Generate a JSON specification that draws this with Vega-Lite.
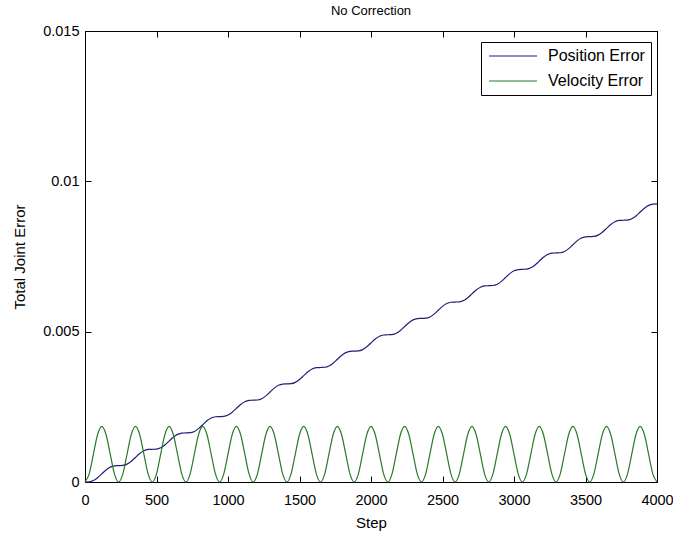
{
  "$schema": "https://vega.github.io/schema/vega-lite/v6.json",
  "width": 572,
  "height": 451,
  "autosize": {"type": "none"},
  "padding": {"left": 85, "top": 31, "right": 16, "bottom": 53},
  "background": "white",
  "title": {"text": "No Correction", "fontSize": 13, "fontWeight": "normal", "font": "Liberation Sans", "color": "black", "offset": 5},
  "config": {
    "view": {"stroke": "black", "strokeWidth": 1},
    "font": "Liberation Sans",
    "axis": {
      "grid": false,
      "domainColor": "black",
      "tickColor": "black",
      "labelColor": "black",
      "titleColor": "black",
      "labelFontSize": 14.5,
      "titleFontSize": 15,
      "titleFontWeight": "normal",
      "tickSize": -6
    }
  },
  "data": {"values": [
    {"s":0,"p":0,"v":0},{"s":29.4,"p":0.000007,"v":0.000271},{"s":58.8,"p":0.000049,"v":0.000925},{"s":88.2,"p":0.000143,"v":0.001579},{"s":117.6,"p":0.000272,"v":0.00185},{"s":147.1,"p":0.000401,"v":0.001579},{"s":176.5,"p":0.000495,"v":0.000925},{"s":205.9,"p":0.000537,"v":0.000271},
    {"s":235.3,"p":0.000544,"v":0},{"s":264.7,"p":0.000551,"v":0.000271},{"s":294.1,"p":0.000594,"v":0.000925},{"s":323.5,"p":0.000687,"v":0.001579},{"s":352.9,"p":0.000816,"v":0.00185},{"s":382.4,"p":0.000946,"v":0.001579},{"s":411.8,"p":0.001039,"v":0.000925},{"s":441.2,"p":0.001082,"v":0.000271},
    {"s":470.6,"p":0.001088,"v":0},{"s":500,"p":0.001095,"v":0.000271},{"s":529.4,"p":0.001138,"v":0.000925},{"s":558.8,"p":0.001231,"v":0.001579},{"s":588.2,"p":0.00136,"v":0.00185},{"s":617.6,"p":0.00149,"v":0.001579},{"s":647.1,"p":0.001583,"v":0.000925},{"s":676.5,"p":0.001626,"v":0.000271},
    {"s":705.9,"p":0.001632,"v":0},{"s":735.3,"p":0.001639,"v":0.000271},{"s":764.7,"p":0.001682,"v":0.000925},{"s":794.1,"p":0.001775,"v":0.001579},{"s":823.5,"p":0.001904,"v":0.00185},{"s":852.9,"p":0.002034,"v":0.001579},{"s":882.4,"p":0.002127,"v":0.000925},{"s":911.8,"p":0.00217,"v":0.000271},
    {"s":941.2,"p":0.002176,"v":0},{"s":970.6,"p":0.002183,"v":0.000271},{"s":1000,"p":0.002226,"v":0.000925},{"s":1029.4,"p":0.002319,"v":0.001579},{"s":1058.8,"p":0.002448,"v":0.00185},{"s":1088.2,"p":0.002578,"v":0.001579},{"s":1117.6,"p":0.002671,"v":0.000925},{"s":1147.1,"p":0.002714,"v":0.000271},
    {"s":1176.5,"p":0.002721,"v":0},{"s":1205.9,"p":0.002728,"v":0.000271},{"s":1235.3,"p":0.00277,"v":0.000925},{"s":1264.7,"p":0.002864,"v":0.001579},{"s":1294.1,"p":0.002993,"v":0.00185},{"s":1323.5,"p":0.003122,"v":0.001579},{"s":1352.9,"p":0.003216,"v":0.000925},{"s":1382.4,"p":0.003258,"v":0.000271},
    {"s":1411.8,"p":0.003265,"v":0},{"s":1441.2,"p":0.003272,"v":0.000271},{"s":1470.6,"p":0.003314,"v":0.000925},{"s":1500,"p":0.003408,"v":0.001579},{"s":1529.4,"p":0.003537,"v":0.00185},{"s":1558.8,"p":0.003666,"v":0.001579},{"s":1588.2,"p":0.00376,"v":0.000925},{"s":1617.6,"p":0.003802,"v":0.000271},
    {"s":1647.1,"p":0.003809,"v":0},{"s":1676.5,"p":0.003816,"v":0.000271},{"s":1705.9,"p":0.003858,"v":0.000925},{"s":1735.3,"p":0.003952,"v":0.001579},{"s":1764.7,"p":0.004081,"v":0.00185},{"s":1794.1,"p":0.00421,"v":0.001579},{"s":1823.5,"p":0.004304,"v":0.000925},{"s":1852.9,"p":0.004346,"v":0.000271},
    {"s":1882.4,"p":0.004353,"v":0},{"s":1911.8,"p":0.00436,"v":0.000271},{"s":1941.2,"p":0.004402,"v":0.000925},{"s":1970.6,"p":0.004496,"v":0.001579},{"s":2000,"p":0.004625,"v":0.00185},{"s":2029.4,"p":0.004754,"v":0.001579},{"s":2058.8,"p":0.004848,"v":0.000925},{"s":2088.2,"p":0.00489,"v":0.000271},
    {"s":2117.6,"p":0.004897,"v":0},{"s":2147.1,"p":0.004904,"v":0.000271},{"s":2176.5,"p":0.004946,"v":0.000925},{"s":2205.9,"p":0.00504,"v":0.001579},{"s":2235.3,"p":0.005169,"v":0.00185},{"s":2264.7,"p":0.005298,"v":0.001579},{"s":2294.1,"p":0.005392,"v":0.000925},{"s":2323.5,"p":0.005434,"v":0.000271},
    {"s":2352.9,"p":0.005441,"v":0},{"s":2382.4,"p":0.005448,"v":0.000271},{"s":2411.8,"p":0.00549,"v":0.000925},{"s":2441.2,"p":0.005584,"v":0.001579},{"s":2470.6,"p":0.005713,"v":0.00185},{"s":2500,"p":0.005842,"v":0.001579},{"s":2529.4,"p":0.005936,"v":0.000925},{"s":2558.8,"p":0.005978,"v":0.000271},
    {"s":2588.2,"p":0.005985,"v":0},{"s":2617.6,"p":0.005992,"v":0.000271},{"s":2647.1,"p":0.006034,"v":0.000925},{"s":2676.5,"p":0.006128,"v":0.001579},{"s":2705.9,"p":0.006257,"v":0.00185},{"s":2735.3,"p":0.006386,"v":0.001579},{"s":2764.7,"p":0.00648,"v":0.000925},{"s":2794.1,"p":0.006522,"v":0.000271},
    {"s":2823.5,"p":0.006529,"v":0},{"s":2852.9,"p":0.006536,"v":0.000271},{"s":2882.4,"p":0.006578,"v":0.000925},{"s":2911.8,"p":0.006672,"v":0.001579},{"s":2941.2,"p":0.006801,"v":0.00185},{"s":2970.6,"p":0.00693,"v":0.001579},{"s":3000,"p":0.007024,"v":0.000925},{"s":3029.4,"p":0.007066,"v":0.000271},
    {"s":3058.8,"p":0.007074,"v":0},{"s":3088.2,"p":0.007081,"v":0.000271},{"s":3117.6,"p":0.007123,"v":0.000925},{"s":3147.1,"p":0.007217,"v":0.001579},{"s":3176.5,"p":0.007346,"v":0.00185},{"s":3205.9,"p":0.007475,"v":0.001579},{"s":3235.3,"p":0.007569,"v":0.000925},{"s":3264.7,"p":0.007611,"v":0.000271},
    {"s":3294.1,"p":0.007618,"v":0},{"s":3323.5,"p":0.007625,"v":0.000271},{"s":3352.9,"p":0.007667,"v":0.000925},{"s":3382.4,"p":0.007761,"v":0.001579},{"s":3411.8,"p":0.00789,"v":0.00185},{"s":3441.2,"p":0.008019,"v":0.001579},{"s":3470.6,"p":0.008113,"v":0.000925},{"s":3500,"p":0.008155,"v":0.000271},
    {"s":3529.4,"p":0.008162,"v":0},{"s":3558.8,"p":0.008169,"v":0.000271},{"s":3588.2,"p":0.008211,"v":0.000925},{"s":3617.6,"p":0.008305,"v":0.001579},{"s":3647.1,"p":0.008434,"v":0.00185},{"s":3676.5,"p":0.008563,"v":0.001579},{"s":3705.9,"p":0.008657,"v":0.000925},{"s":3735.3,"p":0.008699,"v":0.000271},
    {"s":3764.7,"p":0.008706,"v":0},{"s":3794.1,"p":0.008713,"v":0.000271},{"s":3823.5,"p":0.008755,"v":0.000925},{"s":3852.9,"p":0.008849,"v":0.001579},{"s":3882.4,"p":0.008978,"v":0.00185},{"s":3911.8,"p":0.009107,"v":0.001579},{"s":3941.2,"p":0.009201,"v":0.000925},{"s":3970.6,"p":0.009243,"v":0.000271},
    {"s":4000,"p":0.00925,"v":0}
  ]},
  "transform": [{"fold": ["p", "v"], "as": ["series", "value"]}],
  "layer": [
    {
      "mark": {"type": "line", "interpolate": "monotone", "strokeWidth": 1.2},
      "encoding": {
        "x": {"field": "s", "type": "quantitative", "scale": {"domain": [0, 4000], "nice": false},
              "axis": {"orient": "bottom", "values": [0,500,1000,1500,2000,2500,3000,3500,4000], "format": "d", "title": "Step", "labelPadding": 17, "titlePadding": 9, "labelFlush": false}},
        "y": {"field": "value", "type": "quantitative", "scale": {"domain": [0, 0.015], "nice": false, "zero": true},
              "axis": {"orient": "left", "values": [0, 0.005, 0.01, 0.015], "format": ".3~f", "title": "Total Joint Error", "labelPadding": 12, "titlePadding": 15, "labelFlush": false}},
        "color": {"field": "series", "type": "nominal",
          "scale": {"domain": ["p", "v"], "range": ["#1f1f7a", "#2b7a2b"]},
          "legend": {"orient": "none", "legendX": 396, "legendY": 11, "title": null,
            "labelExpr": "datum.label == 'p' ? 'Position Error' : 'Velocity Error'",
            "symbolType": "M-1,0H7", "symbolSize": 144, "symbolStrokeWidth": 1.2,
            "labelFontSize": 16, "labelColor": "black", "strokeColor": "black", "fillColor": "white",
            "padding": 6, "rowPadding": 9, "labelOffset": 45}}
      }
    },
    {
      "mark": {"type": "line", "opacity": 0},
      "encoding": {
        "x": {"field": "s", "type": "quantitative",
              "axis": {"orient": "top", "values": [0,500,1000,1500,2000,2500,3000,3500,4000], "labels": false, "title": null}},
        "y": {"field": "value", "type": "quantitative",
              "axis": {"orient": "right", "values": [0, 0.005, 0.01, 0.015], "labels": false, "title": null}},
        "detail": {"field": "series"}
      }
    }
  ],
  "resolve": {"axis": {"x": "independent", "y": "independent"}}
}
